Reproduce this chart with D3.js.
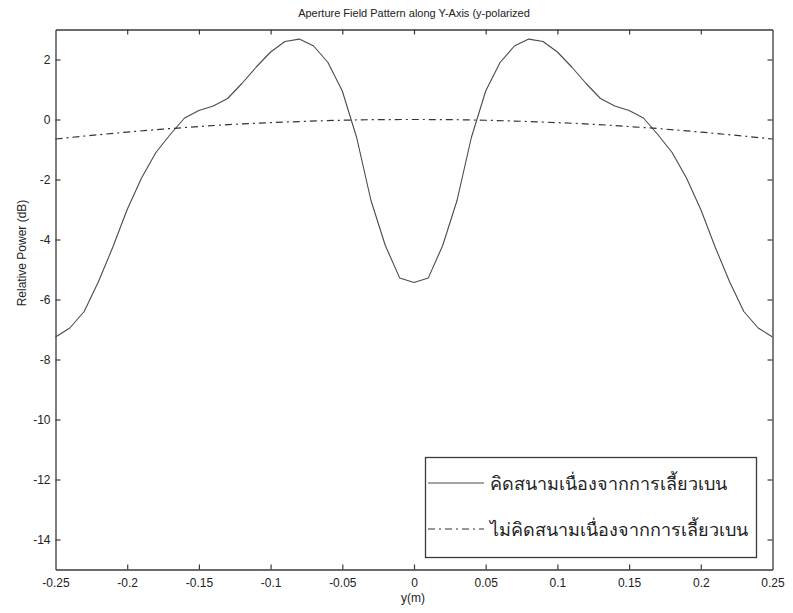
<!DOCTYPE html>
<html>
<head>
<meta charset="utf-8">
<script src="https://cdn.jsdelivr.net/npm/d3@7/dist/d3.min.js"></script>
<style>
  html, body { margin: 0; padding: 0; background: #fff; }
  svg { display: block; }
  text { font-family: Arial, "Liberation Sans", sans-serif; fill: #222; }
</style>
</head>
<body>
<svg id="chart" width="793" height="613"></svg>
<script>
// Aperture field samples along the y-axis (m)
const yPos = [
  -0.25, -0.24, -0.23, -0.22, -0.21, -0.20, -0.19, -0.18, -0.17, -0.16,
  -0.15, -0.14, -0.13, -0.12, -0.11, -0.10, -0.09, -0.08, -0.07, -0.06,
  -0.05, -0.04, -0.03, -0.02, -0.01, 0.00, 0.01, 0.02, 0.03, 0.04,
  0.05, 0.06, 0.07, 0.08, 0.09, 0.10, 0.11, 0.12, 0.13, 0.14,
  0.15, 0.16, 0.17, 0.18, 0.19, 0.20, 0.21, 0.22, 0.23, 0.24, 0.25
];
// Relative power (dB) including diffracted field
const withDiffraction = [
  -7.25, -6.95, -6.40, -5.40, -4.25, -3.00, -1.95, -1.10, -0.50, 0.05,
  0.30, 0.45, 0.70, 1.20, 1.75, 2.25, 2.60, 2.68, 2.45, 1.90,
  0.95, -0.60, -2.70, -4.20, -5.28, -5.43, -5.28, -4.20, -2.70, -0.60,
  0.95, 1.90, 2.45, 2.68, 2.60, 2.25, 1.75, 1.20, 0.70, 0.45,
  0.30, 0.05, -0.50, -1.10, -1.95, -3.00, -4.25, -5.40, -6.40, -6.95, -7.25
];
// Relative power (dB) without diffracted field
const yPosCoarse = [
  -0.25, -0.225, -0.2, -0.175, -0.15, -0.125, -0.1, -0.075, -0.05, -0.025, 0,
  0.025, 0.05, 0.075, 0.1, 0.125, 0.15, 0.175, 0.2, 0.225, 0.25
];
const withoutDiffraction = [
  -0.65, -0.53, -0.42, -0.32, -0.235, -0.16, -0.105, -0.06, -0.025, -0.005, 0,
  -0.005, -0.025, -0.06, -0.105, -0.16, -0.235, -0.32, -0.42, -0.53, -0.65
];
const xTicks = [-0.25, -0.2, -0.15, -0.1, -0.05, 0, 0.05, 0.1, 0.15, 0.2, 0.25];
const xTickLabels = ["-0.25", "-0.2", "-0.15", "-0.1", "-0.05", "0", "0.05", "0.1", "0.15", "0.2", "0.25"];
const yTicks = [-14, -12, -10, -8, -6, -4, -2, 0, 2];
const yTickLabels = ["-14", "-12", "-10", "-8", "-6", "-4", "-2", "0", "2"];
const legendLabels = ["คิดสนามเนื่องจากการเลี้ยวเบน", "ไม่คิดสนามเนื่องจากการเลี้ยวเบน"];
const titleText = "Aperture Field Pattern along Y-Axis (y-polarized";
const xLabel = "y(m)";
const yLabel = "Relative Power (dB)";

const svg = d3.select("#chart");
const plotL = 55.5, plotR = 772.5, plotT = 29.5, plotB = 569.5;

const x = d3.scaleLinear().domain([-0.25, 0.25]).range([plotL, plotR]);
const y = d3.scaleLinear().domain([-15, 3]).range([plotB, plotT]);

const axisColor = "#3a3a3a";

// Axes with inward ticks on all four sides
const gB = svg.append("g").attr("transform", `translate(0,${plotB})`)
  .call(d3.axisBottom(x).tickValues(xTicks).tickFormat((d, i) => xTickLabels[i])
    .tickSizeInner(-5).tickSizeOuter(0).tickPadding(9));
const gT = svg.append("g").attr("transform", `translate(0,${plotT})`)
  .call(d3.axisTop(x).tickValues(xTicks).tickFormat("").tickSizeInner(-5).tickSizeOuter(0));
const gL = svg.append("g").attr("transform", `translate(${plotL},0)`)
  .call(d3.axisLeft(y).tickValues(yTicks).tickFormat((d, i) => yTickLabels[i])
    .tickSizeInner(-5).tickSizeOuter(0).tickPadding(5));
const gR = svg.append("g").attr("transform", `translate(${plotR},0)`)
  .call(d3.axisRight(y).tickValues(yTicks).tickFormat("").tickSizeInner(-5).tickSizeOuter(0));

[gB, gT, gL, gR].forEach(g => {
  g.select(".domain").attr("stroke", axisColor).attr("stroke-width", 1.3);
  g.selectAll(".tick line").attr("stroke", axisColor).attr("stroke-width", 1.2);
  g.selectAll(".tick text").attr("font-size", 12).attr("fill", "#222")
    .attr("font-family", "Arial, 'Liberation Sans', sans-serif");
});
// drop the end tick marks that sit on the frame corners
gB.selectAll(".tick line").filter(d => d === -0.25 || d === 0.25).remove();
gT.selectAll(".tick line").filter(d => d === -0.25 || d === 0.25).remove();

// Curves
const lineA = d3.line().x((d, i) => x(yPos[i])).y(d => y(d));
svg.append("path")
  .attr("d", lineA(withDiffraction))
  .attr("fill", "none").attr("stroke", "#4a4a4a").attr("stroke-width", 1.1)
  .attr("stroke-linejoin", "round");

const lineB = d3.line().x((d, i) => x(yPosCoarse[i])).y(d => y(d)).curve(d3.curveMonotoneX);
svg.append("path")
  .attr("d", lineB(withoutDiffraction))
  .attr("fill", "none").attr("stroke", "#333").attr("stroke-width", 1.2)
  .attr("stroke-dasharray", "7,4,2,4");

// Title and axis labels
svg.append("text").attr("x", 414).attr("y", 17).attr("text-anchor", "middle")
  .attr("font-size", 11).text(titleText);
svg.append("text").attr("x", 413).attr("y", 602).attr("text-anchor", "middle")
  .attr("font-size", 12).text(xLabel);
svg.append("text").attr("transform", "translate(26,253) rotate(-90)")
  .attr("text-anchor", "middle").attr("font-size", 12).text(yLabel);

// Legend
const lg = svg.append("g");
lg.append("rect").attr("x", 425.5).attr("y", 457.5).attr("width", 331).attr("height", 100)
  .attr("fill", "#fff").attr("stroke", axisColor).attr("stroke-width", 1.3);
const legendStyles = [null, "7,4,2,4"];
legendLabels.forEach((t, i) => {
  const ly = 483 + i * 46;
  lg.append("line").attr("x1", 428).attr("x2", 484).attr("y1", ly).attr("y2", ly)
    .attr("stroke", i === 0 ? "#4a4a4a" : "#333").attr("stroke-width", 1.2)
    .attr("stroke-dasharray", legendStyles[i]);
  lg.append("text").attr("x", 490).attr("y", ly + 7)
    .attr("font-size", 18)
    .attr("font-family", "'Noto Sans Thai', 'Noto Sans', 'DejaVu Sans', sans-serif")
    .text(t);
});
</script>
</body>
</html>
